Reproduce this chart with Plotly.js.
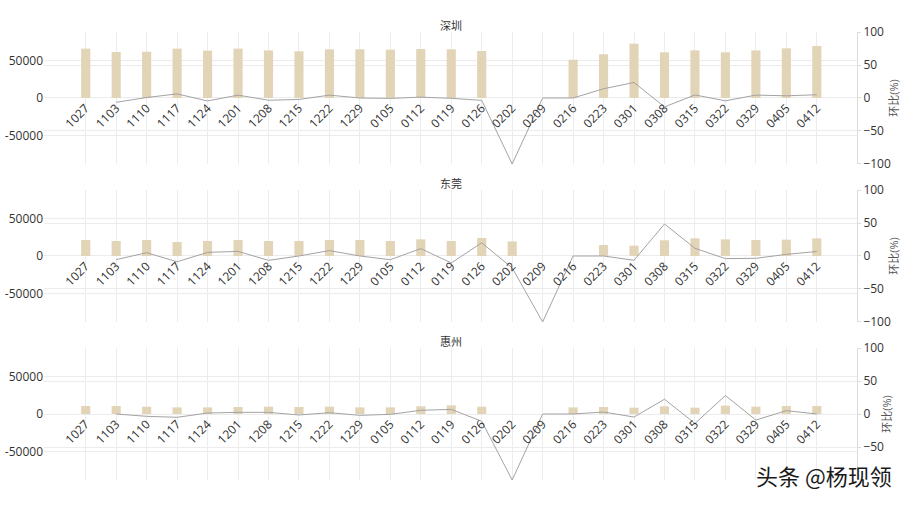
<!DOCTYPE html>
<html>
<head>
<meta charset="utf-8">
<script src="https://cdn.plot.ly/plotly-3.0.1.min.js"></script>
<style>html,body{margin:0;padding:0;background:#fff;}#chart{width:907px;height:505px;}</style>
</head>
<body>
<div id="chart"></div>
<script>
const weeks = ["1027","1103","1110","1117","1124","1201","1208","1215","1222","1229","0105","0112","0119","0126","0202","0209","0216","0223","0301","0308","0315","0322","0329","0405","0412"];

const shenzhenVol = [66100,61600,62000,66100,63400,66100,63800,62500,65200,65200,64700,65600,65200,62900,null,null,51300,58500,72800,61200,63800,61200,63800,66500,69600];
const shenzhenPct = [null,-6.5,0.7,6.2,-4.5,4.3,-3.4,-2.2,4.3,0,-0.6,1.3,-0.5,-3.6,-100,0,0,14,23.5,-13.5,4.6,-4.3,4.4,3.3,4.9];

const dongguanVol = [21400,20100,21400,18800,20100,21400,20100,20100,21400,21400,20100,22300,20100,24100,19600,null,null,14700,13800,21000,23700,22300,21400,21900,23700];
const dongguanPct = [null,-5.5,5,-8.7,5.5,7,-6.6,0,8.2,0,-5.6,11.2,-10.5,20,-18,-100,0,0,-6.5,48.5,11.7,-4,-3.5,2.5,6.8];

const huizhouVol = [10700,10700,9800,8900,8900,9400,9800,9400,9800,8900,8900,10300,11600,9800,null,null,8900,9400,8500,10300,8500,11200,9800,10700,10700];
const huizhouPct = [null,0,-3.5,-5,1.5,2.5,2.5,-1.5,2,-2,-0.5,5.6,7,-11,-100,0,0,3,-4.6,22.4,-14.3,28,-9.2,5.1,0];

const cities = ["深圳","东莞","惠州"];
const volumes = [shenzhenVol, dongguanVol, huizhouVol];
const pcts = [shenzhenPct, dongguanPct, huizhouPct];
const rightTicks = [[-100,-50,0,50,100],[-100,-50,0,50,100],[-50,0,50,100]];

const FONT = "'Open Sans', 'Noto Sans CJK SC', sans-serif";
const barColor = "#e2d4b6";
const lineColor = "#a3a3a3";
const gridColor = "#ececec";

const domains = [[0.7054,1],[0.3527,0.6473],[0,0.2946]];

const traces = [];
const layout = {
  width: 907, height: 505,
  margin: {l: 44, r: 50, t: 32, b: 25},
  paper_bgcolor: "#fff", plot_bgcolor: "#fff",
  showlegend: false,
  font: {family: FONT, size: 12, color: "#333"},
  annotations: []
};

for (let i = 0; i < 3; i++) {
  const xa = i === 0 ? "x" : "x" + (i + 1);
  const yl = "y" + (2 * i + 1 === 1 ? "" : (2 * i + 1));
  const yr = "y" + (2 * i + 2);
  traces.push({
    type: "bar", x: weeks, y: volumes[i], xaxis: xa, yaxis: yl,
    marker: {color: barColor}, width: 0.3, hoverinfo: "x+y"
  });
  traces.push({
    type: "scatter", mode: "lines", x: weeks, y: pcts[i], xaxis: xa, yaxis: yr,
    line: {color: lineColor, width: 1}, connectgaps: false, hoverinfo: "x+y"
  });
  const d = domains[i];
  const xKey = i === 0 ? "xaxis" : "xaxis" + (i + 1);
  const ylKey = "yaxis" + (2 * i + 1 === 1 ? "" : (2 * i + 1));
  const yrKey = "yaxis" + (2 * i + 2);
  layout[xKey] = {
    type: "category", range: [-1.37, 25.32],
    anchor: "free", position: (d[0] + d[1]) / 2,
    tickangle: -45, tickfont: {size: 12, color: "#333"},
    showgrid: true, gridcolor: gridColor, zeroline: false, showline: false,
    ticks: "", fixedrange: true
  };
  if (i > 0) layout[xKey].matches = "x";
  layout[ylKey] = {
    domain: d, anchor: xa, range: [-88400, 88400],
    tickvals: [-50000, 0, 50000], ticktext: ["-50000","0","50000"],
    tickfont: {size: 12, color: "#333"},
    showgrid: true, gridcolor: gridColor, zeroline: true, zerolinecolor: gridColor,
    showline: false, ticks: "", fixedrange: true
  };
  layout[yrKey] = {
    domain: d, anchor: xa, overlaying: yl, side: "right",
    range: [-100, 100], tickvals: rightTicks[i],
    tickfont: {size: 12, color: "#333"},
    showgrid: true, gridcolor: gridColor, zeroline: false,
    showline: true, linecolor: "#dcdcdc", linewidth: 1,
    ticks: "outside", ticklen: 3, tickcolor: "#dcdcdc",
    title: {text: "环比(%)", font: {size: 11, color: "#555", family: FONT}, standoff: 0},
    fixedrange: true
  };
  layout.annotations.push({
    text: cities[i], xref: "paper", yref: "paper", x: 0.5, y: d[1],
    xanchor: "center", yanchor: "bottom", showarrow: false, yshift: -3,
    font: {size: 11, color: "#333", family: FONT}
  });
}

layout.annotations.push({
  text: "头条 @杨现领", xref: "paper", yref: "paper", x: 1.045, y: 0.005,
  xanchor: "right", yanchor: "middle", showarrow: false, yshift: 3,
  font: {size: 22, color: "#1a1a1a", family: "'Noto Sans CJK SC', sans-serif"}
});

Plotly.newPlot("chart", traces, layout, {displayModeBar: false, staticPlot: true});
</script>
</body>
</html>
